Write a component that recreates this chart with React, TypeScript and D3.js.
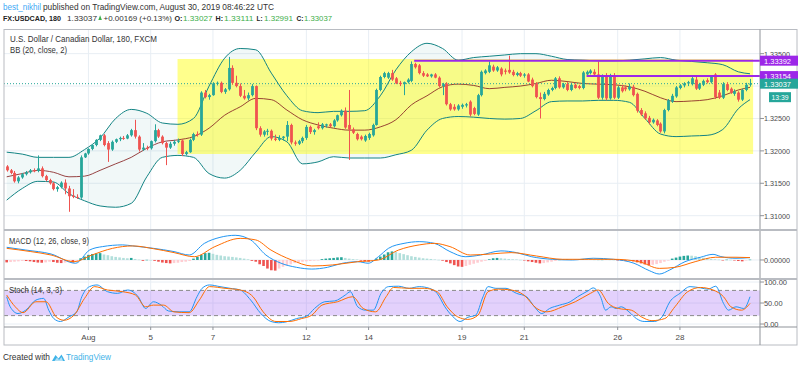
import React from "react";
import * as d3 from "d3";

// 3h candles, Jul 29 09:00 -> Aug 30 06:00 UTC. [open, high, low, close] in pips above 1.3000
const ohlc: [number, number, number, number][] = [
  [176, 178, 168, 170], [170, 172, 164, 166], [166, 169, 151, 153], [153, 161, 150, 159], [159, 166, 157, 164], [164, 169, 162, 167], [167, 172, 165, 170], [170, 173, 167, 169],
  [169, 193, 167, 173], [173, 176, 159, 161], [161, 163, 153, 155], [155, 157, 148, 150], [150, 152, 139, 141], [141, 146, 137, 144], [144, 153, 142, 151], [151, 156, 133, 142],
  [142, 146, 106, 130], [131, 141, 127, 129], [129, 133, 126, 128], [128, 193, 126, 190], [190, 197, 189, 196], [196, 204, 194, 203], [203, 210, 201, 209], [209, 218, 207, 217],
  [217, 225, 215, 224], [224, 226, 207, 209], [212, 215, 183, 202], [202, 216, 200, 214], [214, 219, 212, 218], [218, 222, 215, 220], [220, 223, 217, 219], [219, 226, 218, 224],
  [224, 234, 222, 232], [232, 248, 219, 222], [222, 224, 199, 202], [202, 212, 200, 205], [205, 208, 201, 204], [204, 216, 202, 215], [215, 241, 213, 232], [232, 234, 220, 222],
  [222, 224, 210, 212], [212, 214, 178, 205], [205, 214, 203, 211], [211, 217, 208, 214], [214, 219, 212, 216], [216, 218, 192, 195], [195, 200, 193, 198], [198, 219, 197, 217],
  [217, 228, 215, 226], [226, 230, 222, 225], [225, 292, 223, 290], [290, 294, 281, 283], [283, 288, 279, 286], [286, 306, 285, 304], [304, 307, 301, 305], [305, 307, 289, 291],
  [291, 297, 288, 295], [295, 345, 293, 328], [328, 332, 302, 305], [305, 316, 298, 300], [300, 304, 283, 285], [285, 294, 279, 281], [281, 290, 278, 286], [286, 303, 284, 300],
  [300, 301, 232, 235], [235, 238, 222, 225], [225, 232, 222, 230], [230, 234, 224, 231], [231, 233, 216, 219], [219, 225, 215, 217], [217, 224, 215, 220], [220, 223, 216, 222],
  [222, 246, 215, 240], [240, 242, 210, 213], [213, 216, 208, 211], [211, 217, 209, 215], [215, 222, 212, 220], [220, 240, 217, 237], [237, 239, 226, 229], [229, 234, 225, 232],
  [238, 244, 233, 235], [235, 243, 233, 241], [239, 242, 236, 241], [241, 243, 236, 238], [238, 249, 236, 247], [247, 256, 245, 255], [255, 264, 253, 262], [262, 267, 234, 236],
  [240, 294, 186, 233], [233, 236, 226, 228], [226, 228, 216, 218], [222, 224, 216, 218], [216, 225, 214, 223], [220, 228, 217, 226], [224, 242, 222, 240], [240, 296, 239, 294],
  [294, 316, 292, 314], [314, 322, 312, 320], [313, 322, 311, 320], [320, 325, 308, 310], [312, 314, 303, 304], [305, 308, 300, 303], [303, 307, 286, 306], [306, 312, 304, 310],
  [308, 338, 306, 334], [334, 336, 327, 329], [332, 334, 318, 320], [320, 323, 314, 316], [318, 320, 314, 315], [315, 319, 313, 318], [318, 320, 312, 313], [313, 315, 298, 300],
  [300, 305, 286, 303], [304, 306, 270, 272], [272, 274, 262, 264], [268, 272, 262, 264], [264, 272, 262, 270], [268, 273, 265, 271], [270, 274, 267, 272], [276, 278, 253, 256],
  [266, 268, 255, 257], [256, 288, 254, 286], [286, 324, 284, 322], [320, 326, 318, 324], [322, 338, 320, 332], [330, 333, 322, 324], [324, 331, 322, 329], [327, 329, 315, 318],
  [324, 327, 318, 322], [325, 347, 319, 321], [322, 325, 315, 317], [317, 322, 315, 320], [320, 322, 314, 316], [316, 320, 313, 318], [318, 320, 306, 307], [310, 313, 298, 300],
  [304, 306, 281, 283], [283, 290, 250, 280], [280, 291, 278, 288], [287, 296, 285, 294], [294, 299, 292, 297], [297, 314, 295, 312], [312, 315, 296, 298], [298, 305, 296, 303],
  [303, 306, 292, 294], [294, 305, 292, 302], [302, 304, 296, 297], [300, 302, 295, 297], [297, 323, 295, 321], [318, 324, 316, 322], [320, 326, 318, 324], [322, 326, 317, 318],
  [318, 338, 280, 282], [282, 318, 279, 316], [316, 320, 278, 281], [281, 319, 279, 317], [317, 320, 280, 282], [282, 300, 280, 298], [298, 302, 290, 292], [298, 301, 292, 295],
  [295, 304, 293, 299], [299, 302, 284, 286], [288, 290, 259, 262], [263, 266, 254, 256], [258, 261, 248, 250], [251, 254, 241, 244], [244, 250, 242, 248], [247, 249, 238, 240],
  [242, 244, 228, 230], [230, 265, 227, 263], [263, 280, 261, 278], [276, 288, 274, 285], [284, 300, 282, 298], [297, 303, 295, 301], [301, 306, 298, 304], [304, 308, 300, 306],
  [303, 315, 301, 312], [310, 314, 294, 296], [296, 305, 294, 303], [302, 310, 300, 308], [309, 312, 304, 306], [306, 316, 304, 314], [318, 320, 280, 283], [290, 294, 280, 282],
  [282, 306, 280, 303], [303, 306, 292, 294], [296, 298, 288, 290], [288, 295, 285, 292], [290, 292, 276, 279], [279, 296, 277, 294], [294, 305, 292, 302], [302.7, 311.1, 299.1, 303.7],
];

// Bollinger bands (20, close, 2), read every 4 bars, pips above 1.3000
const bbIndex = [0, 4, 8, 12, 16, 20, 24, 28, 32, 36, 40, 44, 48, 52, 56, 60, 64, 68, 72, 76, 80, 84, 88, 92, 96, 100, 104, 108, 112, 116, 120, 124, 128, 132, 136, 140, 144, 148, 152, 156, 160, 164, 168, 172, 176, 180, 184, 188, 191];
const bbUpper = [198, 195, 190, 190, 190, 202, 220, 250, 264, 258, 243, 241, 250, 300, 343, 358, 356, 320, 285, 262, 259, 261, 261, 262, 285, 325, 353, 366, 358, 340, 344, 346, 348, 350, 350, 346, 341, 340, 339, 339, 340, 342, 344, 340, 338, 336, 333, 322, 319];
const bbBasis = [160, 165, 170, 167, 160, 161, 170, 180, 190, 204, 214, 217, 222, 235, 255, 268, 281, 279, 263, 248, 240, 235, 232, 232, 237, 248, 271, 285, 299, 303, 301, 296, 298, 300, 304, 309, 307, 304, 303, 302, 299, 292, 282, 276, 277, 279, 285, 294, 298];
const bbLower = [124, 142, 153, 152, 134, 123, 115, 113, 119, 160, 190, 193, 190, 165, 158, 170, 198, 222, 214, 180, 183, 191, 189, 189, 189, 194, 201, 232, 250, 253, 252, 250, 249, 250, 262, 276, 277, 277, 278, 278, 275, 250, 226, 222, 223, 224, 233, 265, 279];

// MACD (12, 26, close, 9) in pips
const macdIndex = [0, 4.9, 11.4, 17.7, 21.3, 24.6, 29.8, 32.4, 37.7, 43, 46.9, 50.8, 54.8, 58.7, 62.7, 66.6, 70.5, 74.5, 78.4, 82.4, 86.3, 90.2, 92.9, 95.5, 98.1, 102.1, 106, 109.9, 113.9, 117.8, 121.8, 127, 131, 134.9, 140.2, 145.4, 150.7, 155.9, 161.2, 165.1, 167.7, 170.4, 174.3, 178.3, 181.5, 183.5, 187.4, 191];
const macdValue = [7.4, 5.8, 3.5, -1.9, 5.8, 7.8, 8.8, 8.2, 6.8, 4.9, 2.9, 9.7, 13.2, 14.4, 11.7, 2.9, -1.9, -4.3, -5.3, -4.3, -1.9, -1, -1.9, 1.9, 6.8, 9.7, 10.7, 9.7, 4.9, 1.9, 2.9, 5.3, 4.3, 1.9, 0.4, 0, 1, 0.4, -1.9, -6.2, -8.2, -5.8, -1, 1.6, 3.3, 2, 1, 1.4];
const signalIndex = [0, 6.2, 11.4, 17.3, 21.9, 27.2, 32.4, 37.7, 43, 48.2, 53.5, 60, 64, 67.9, 73.2, 78.4, 83.7, 90.2, 95.5, 100.7, 106, 109.9, 113.9, 119.1, 124.4, 129.6, 136.2, 142.8, 149.4, 155.9, 162.5, 167.7, 171.7, 176.9, 182.2, 187.4, 191];
const signalValue = [6.8, 4.9, 2.9, -1, 2.9, 6.8, 8.2, 6.6, 4.3, 1.9, 7.8, 12.6, 11.7, 5.8, 0, -3.5, -2.9, -1, 0, 5.8, 8.8, 9.7, 7.8, 2.9, 3.5, 4.3, 2.3, 0.4, 0.4, 0.4, -1, -4.9, -4.3, -1, 1.6, 1.6, 1.4];
const histogram = [
  -1.4, -1.2, -1.0, -0.8, -0.6, -0.6, -0.8, -1.2,
  -1.5, -1.6, -1.4, -1.0, -1.2, -1.6, -1.8, -1.5,
  -1.2, -1.5, -0.8, 1.0, 2.0, 3.0, 3.5, 3.8,
  4.0, 3.2, 2.8, 2.2, 1.8, 1.5, 1.2, 1.0,
  1.2, 0.6, 0.2, -0.5, 0.1, 0.0, -0.5, -1.0,
  -1.5, -1.8, -2.0, -1.8, -1.6, -1.2, -1.0, -0.6,
  0.8, 1.8, 3.0, 4.0, 4.2, 3.6, 3.0, 2.6,
  2.2, 2.0, 1.8, 1.5, 1.2, 0.8, 0.4, -0.5,
  -1.0, -2.5, -3.5, -5.0, -6.0, -6.2, -5.0, -4.0,
  -3.2, -2.5, -1.8, -1.4, -1.0, -0.8, -0.6, -0.4,
  -0.2, 0.5, 0.8, 1.0, 1.2, 1.5, 1.6, 1.2,
  0.8, 0.5, 0.3, -0.4, -0.8, -1.0, -0.6, 0.8,
  2.0, 3.2, 4.5, 5.0, 4.6, 4.0, 3.4, 2.8,
  2.2, 1.8, 1.4, 1.0, 0.8, 0.6, 0.3, 0.1,
  -0.4, -1.2, -2.0, -3.0, -3.8, -4.0, -3.5, -2.8,
  -2.2, -1.6, -1.0, -0.5, 0.4, 1.0, 1.2, 1.0,
  0.8, 0.6, 0.4, 0.3, 0.1, -0.2, -0.8, -1.2,
  -1.6, -2.0, -1.8, -1.4, -1.0, -0.6, 0.2, 0.4,
  0.5, 0.4, 0.3, 0.4, 0.6, 0.5, 0.4, 0.2,
  0.1, 0.2, 0.3, 0.2, 0.1, -0.2, -0.3, -0.5,
  -0.4, -0.8, -1.4, -2.0, -2.6, -3.0, -2.8, -2.4,
  -1.8, -1.0, -0.4, 0.8, 1.4, 2.0, 2.4, 2.6,
  2.5, 2.2, 1.8, 1.3, 1.0, 0.6, 0.4, 0.2,
  -0.1, 0.2, 0.1, -0.2, -0.6, -0.8, -0.3, 0.2,
];

// Stoch (14, 3, 3)
const kIndex = [0, 0.9, 2.9, 4.9, 7.5, 9.5, 10.8, 12.1, 13.8, 16, 18, 19.3, 21.3, 23.2, 25.9, 28.5, 31.1, 33.8, 35.7, 37.7, 39.7, 41.6, 44.3, 46.9, 48.9, 50.2, 52.1, 54.8, 57.4, 60, 62.7, 65.3, 67.9, 69.9, 71.8, 74.5, 77.1, 79.1, 81.7, 84.3, 87, 88.3, 90.2, 92.2, 94.2, 96.2, 98.1, 100.7, 103.4, 106, 108.6, 110.6, 112.6, 114.5, 116.5, 118.5, 120.5, 122.4, 123.7, 125.7, 128.3, 131, 133.6, 135.6, 137.5, 139.5, 142.1, 144.8, 146.7, 149.4, 150.7, 152.6, 153.9, 155.3, 156.6, 157.9, 159.9, 161.8, 163.8, 166.4, 168.4, 170.4, 173, 175.6, 178.3, 180.2, 182.2, 184.2, 185.5, 187.4, 189.4, 191];
const kValue = [65, 41, 25, 33, 57, 61, 33, 13, 6, 17, 29, 65, 89, 93, 77, 73, 81, 65, 37, 53, 45, 31, 29, 29, 65, 85, 93, 89, 85, 81, 57, 25, 6, 3, 5, 13, 19, 37, 53, 55, 69, 77, 41, 33, 33, 73, 89, 90, 85, 89, 85, 73, 41, 19, 6, 16, 21, 65, 89, 85, 85, 73, 65, 41, 25, 37, 45, 53, 65, 79, 86, 65, 33, 41, 37, 41, 29, 13, 6, 6, 17, 53, 73, 89, 86, 83, 90, 49, 33, 41, 37, 65];
const dIndex = [0, 2.2, 4.2, 7.5, 10.1, 12.7, 14.7, 17.3, 20, 22.6, 25.9, 29.8, 33.1, 35.7, 37.7, 40.3, 43, 46.9, 49.5, 52.1, 56.1, 60, 63.3, 65.9, 69.2, 72.5, 75.8, 78.4, 81, 85, 88.9, 91.6, 94.8, 97.5, 99.4, 103.4, 107.3, 110.6, 113.2, 115.9, 118.5, 121.1, 123.7, 126.4, 129.6, 132.9, 136.2, 138.8, 142.8, 146.1, 150, 152, 154.6, 157.2, 160.5, 163.1, 165.8, 169.1, 171.7, 175, 178.3, 181.5, 184.2, 186.1, 188.8, 191];
const dValue = [69, 41, 27, 53, 53, 17, 9, 21, 61, 89, 81, 77, 69, 41, 45, 45, 29, 27, 57, 89, 85, 81, 65, 29, 6, 6, 13, 21, 45, 53, 65, 37, 29, 65, 87, 85, 85, 77, 41, 17, 11, 21, 77, 83, 81, 69, 37, 29, 41, 53, 73, 81, 49, 37, 33, 17, 8, 13, 41, 77, 87, 81, 65, 41, 33, 49];

// axes
const dayTickIndex = [21, 37, 53, 77, 93, 117, 133, 157, 173];
const dayTickLabel = ["Aug", "5", "7", "12", "14", "19", "21", "26", "28"];
const priceTicks = [1.31, 1.315, 1.32, 1.325, 1.33, 1.335];
const stochTicks = [100, 50, 0];

// drawings
const zoneIndex = [43.9, 191.8];
const zonePrice = [1.31952, 1.33418];
const levelPrice = [1.33392, 1.33154];
const levelStart = [104.7, 149];
const lastPrice = 1.33037;

const FONT = "'Liberation Sans', Arial, sans-serif";
const UP = "#26a69a";
const DOWN = "#ef5350";
const PURPLE = "#9c27e8";

export default function App() {
  const left = 4, axisX = 760, right = 797;
  const mainTop = 30, mainBottom = 230, macdBottom = 279, stochBottom = 327, bottom = 345;

  const x = d3.scaleLinear().domain([0, 191]).range([6.7, 750]);
  const y = d3.scaleLinear().domain([1.30779, 1.33873]).range([mainBottom, 29.5]);
  const py = (p: number) => y(1.3 + p / 10000);
  const ym = d3.scaleLinear().domain([-11.1, 17.5]).range([macdBottom, mainBottom]);
  const ys = d3.scaleLinear().domain([-7.1, 106]).range([stochBottom, macdBottom + 0.5]);

  const band = bbIndex.map((i, k) => ({ i, u: bbUpper[k], m: bbBasis[k], l: bbLower[k] }));
  const bandArea =
    d3.area<any>().x((d) => x(d.i)).y0((d) => py(d.l)).y1((d) => py(d.u)).curve(d3.curveMonotoneX)(band) ?? "";
  const curve = (xs: number[], vs: number[], sy: (v: number) => number) =>
    d3.line<number>().x((_, k) => x(xs[k])).y((v) => sy(v)).curve(d3.curveMonotoneX)(vs) ?? "";

  const histColor = (h: number, k: number) => {
    const prev = k > 0 ? histogram[k - 1] : h;
    if (h >= 0) return h >= prev ? "#26a69a" : "#b2dfdb";
    return h <= prev ? "#ef5350" : "#ffcdd2";
  };

  const grid = "#e8eef4";
  const axisText = "#4a4a4a";
  // the last-price tag covers the axis label it sits on
  const visibleTicks = priceTicks.filter((p) => Math.abs(y(p) - y(lastPrice)) > 8);

  return (
    <svg width={800} height={368} style={{ display: "block", fontFamily: FONT }}>
      <style>{`body{margin:0}`}</style>
      <defs>
        <clipPath id="cMain"><rect x={left} y={mainTop} width={axisX - left} height={mainBottom - mainTop} /></clipPath>
        <clipPath id="cMacd"><rect x={left} y={mainBottom} width={axisX - left} height={macdBottom - mainBottom} /></clipPath>
        <clipPath id="cStoch"><rect x={left} y={macdBottom} width={axisX - left} height={stochBottom - macdBottom} /></clipPath>
      </defs>
      <rect width={800} height={368} fill="#fff" />

      {/* header */}
      <text x={3} y={10} fontSize={9} fill="#3fa9f5" textLength={38} lengthAdjust="spacingAndGlyphs">best_nikhil</text>
      <text x={43} y={10} fontSize={9} fill="#333" textLength={231} lengthAdjust="spacingAndGlyphs">published on TradingView.com, August 30, 2019 08:46:22 UTC</text>
      <text x={3} y={21} fontSize={8} fill="#222" fontWeight="bold" textLength={58} lengthAdjust="spacingAndGlyphs">FX:USDCAD, 180</text>
      <text x={67} y={21} fontSize={8} fill="#333" textLength={30} lengthAdjust="spacingAndGlyphs">1.33037</text>
      <path d="M98.3,20 L100.1,15.2 L101.9,20 Z" fill="#3cae4a" />
      <text x={103.5} y={21} fontSize={8} fill="#333" textLength={68.5} lengthAdjust="spacingAndGlyphs">+0.00169 (+0.13%)</text>
      {[
        ["O:", 174.5, 8, "1.33027", 183, 29.5],
        ["H:", 215.5, 7.5, "1.33111", 224, 29.5],
        ["L:", 256.5, 6, "1.32991", 264, 29],
        ["C:", 296.5, 7, "1.33037", 304, 28],
      ].map(([k, kx, kw, v, vx, vw]) => (
        <g key={k as string}>
          <text x={kx as number} y={21} fontSize={8} fill="#222" fontWeight="bold" textLength={kw as number} lengthAdjust="spacingAndGlyphs">{k}</text>
          <text x={vx as number} y={21} fontSize={8} fill="#3cae4a" textLength={vw as number} lengthAdjust="spacingAndGlyphs">{v}</text>
        </g>
      ))}

      {/* grid */}
      {dayTickIndex.map((i) => (
        <line key={"vg" + i} x1={x(i)} x2={x(i)} y1={mainTop} y2={stochBottom} stroke={grid} />
      ))}
      {priceTicks.map((p) => (
        <line key={"hg" + p} x1={left} x2={axisX} y1={y(p)} y2={y(p)} stroke={grid} />
      ))}
      <line x1={left} x2={axisX} y1={ym(0)} y2={ym(0)} stroke={grid} />
      {stochTicks.map((v) => (
        <line key={"sg" + v} x1={left} x2={axisX} y1={ys(v)} y2={ys(v)} stroke={grid} />
      ))}

      {/* main pane */}
      <g clipPath="url(#cMain)">
        <path d={bandArea} fill="#198787" fillOpacity={0.06} />
        <rect
          x={x(zoneIndex[0])}
          y={y(zonePrice[1])}
          width={x(zoneIndex[1]) - x(zoneIndex[0])}
          height={y(zonePrice[0]) - y(zonePrice[1])}
          fill="#ffff00"
          fillOpacity={0.45}
        />
        <path d={curve(bbIndex, bbUpper, py)} fill="none" stroke="#138484" strokeWidth={1} />
        <path d={curve(bbIndex, bbLower, py)} fill="none" stroke="#138484" strokeWidth={1} />
        <path d={curve(bbIndex, bbBasis, py)} fill="none" stroke="#872323" strokeOpacity={0.85} strokeWidth={1} />
        <line x1={left} x2={axisX} y1={y(lastPrice)} y2={y(lastPrice)} stroke={UP} strokeDasharray="1,2" />
        {ohlc.map(([o, h, l, c], i) => {
          const col = c >= o ? UP : DOWN;
          const cx = Math.round(x(i)) + 0.5;
          const top = py(Math.max(o, c));
          const ht = Math.max(1, Math.abs(py(o) - py(c)));
          return (
            <g key={i}>
              <line x1={cx} x2={cx} y1={py(h)} y2={py(l)} stroke={col} strokeWidth={1} />
              <rect x={cx - 1.4} y={top} width={2.8} height={ht} fill={col} />
            </g>
          );
        })}
        {levelPrice.map((p, k) => (
          <line key={"lv" + k} x1={x(levelStart[k])} x2={axisX} y1={y(p)} y2={y(p)} stroke={PURPLE} strokeWidth={2} />
        ))}
      </g>

      {/* MACD pane */}
      <g clipPath="url(#cMacd)">
        {histogram.map((h, k) => (
          <rect
            key={"h" + k}
            x={x(k) - 1.3}
            y={Math.min(ym(0), ym(h))}
            width={2.6}
            height={Math.max(0.5, Math.abs(ym(h) - ym(0)))}
            fill={histColor(h, k)}
          />
        ))}
        <path d={curve(macdIndex, macdValue, ym)} fill="none" stroke="#2196f3" strokeWidth={1} />
        <path d={curve(signalIndex, signalValue, ym)} fill="none" stroke="#ff6d00" strokeWidth={1} />
      </g>

      {/* Stoch pane */}
      <g clipPath="url(#cStoch)">
        <rect x={left} y={ys(80)} width={axisX - left} height={ys(20) - ys(80)} fill="#9b59f5" fillOpacity={0.28} />
        <line x1={left} x2={axisX} y1={ys(80)} y2={ys(80)} stroke="#8a8a8a" strokeDasharray="4,3" />
        <line x1={left} x2={axisX} y1={ys(20)} y2={ys(20)} stroke="#8a8a8a" strokeDasharray="4,3" />
        <path d={curve(kIndex, kValue, ys)} fill="none" stroke="#2196f3" strokeWidth={1} />
        <path d={curve(dIndex, dValue, ys)} fill="none" stroke="#ff6d00" strokeWidth={1} />
      </g>

      {/* pane labels */}
      <text x={10} y={41.5} fontSize={9} fill="#333" textLength={147} lengthAdjust="spacingAndGlyphs">U.S. Dollar / Canadian Dollar, 180, FXCM</text>
      <text x={10} y={52.5} fontSize={9} fill="#333" textLength={57} lengthAdjust="spacingAndGlyphs">BB (20, close, 2)</text>
      <text x={9} y={243.5} fontSize={8.5} fill="#333" textLength={80} lengthAdjust="spacingAndGlyphs">MACD (12, 26, close, 9)</text>
      <text x={9} y={292.5} fontSize={8.5} fill="#333" textLength={53} lengthAdjust="spacingAndGlyphs">Stoch (14, 3, 3)</text>

      {/* frame and separators */}
      <rect x={left} y={29.5} width={right - left} height={bottom - 29.5} fill="none" stroke="#b9bcc2" />
      <line x1={axisX} x2={axisX} y1={29.5} y2={bottom} stroke="#8f9399" />
      {[mainBottom, macdBottom].map((v) => (
        <line key={"sep" + v} x1={left} x2={right} y1={v} y2={v} stroke="#b9bcc2" strokeWidth={2} />
      ))}
      <line x1={left} x2={right} y1={stochBottom} y2={stochBottom} stroke="#8f9399" />

      {/* price axis */}
      {priceTicks.map((p) => (
        <line key={"ptk" + p} x1={axisX} x2={axisX + 4} y1={y(p)} y2={y(p)} stroke="#8f9399" />
      ))}
      {visibleTicks.map((p) => (
        <text key={"pt" + p} x={764} y={y(p) + 3} fontSize={8} fill={axisText} textLength={26} lengthAdjust="spacingAndGlyphs">
          {d3.format(".5f")(p)}
        </text>
      ))}
      <line x1={axisX} x2={axisX + 4} y1={ym(0)} y2={ym(0)} stroke="#8f9399" />
      <text x={764} y={ym(0) + 3} fontSize={8} fill={axisText} textLength={26} lengthAdjust="spacingAndGlyphs">0.00000</text>
      {stochTicks.map((v) => (
        <g key={"st" + v}>
          <line x1={axisX} x2={axisX + 4} y1={ys(v)} y2={ys(v)} stroke="#8f9399" />
          <text x={764} y={ys(v) + 3} fontSize={8} fill={axisText} textLength={v === 100 ? 23 : v === 50 ? 18.5 : 14.5} lengthAdjust="spacingAndGlyphs">
            {d3.format(".2f")(v)}
          </text>
        </g>
      ))}
      {levelPrice.map((p, k) => (
        <g key={"lb" + k}>
          <rect x={axisX} y={y(p) - 5} width={38} height={10} fill={PURPLE} />
          <text x={764} y={y(p) + 3} fontSize={8} fill="#fff" textLength={27} lengthAdjust="spacingAndGlyphs">{d3.format(".5f")(p)}</text>
        </g>
      ))}
      <rect x={axisX} y={y(lastPrice) - 5} width={38} height={10} fill={UP} />
      <text x={764} y={y(lastPrice) + 3} fontSize={8} fill="#fff" textLength={27} lengthAdjust="spacingAndGlyphs">{d3.format(".5f")(lastPrice)}</text>
      <rect x={769} y={y(lastPrice) + 8.5} width={22} height={10} fill={UP} />
      <text x={771.5} y={y(lastPrice) + 16.5} fontSize={8} fill="#fff" textLength={17} lengthAdjust="spacingAndGlyphs">13:39</text>

      {/* time axis */}
      {dayTickIndex.map((i, k) => (
        <g key={"tt" + i}>
          <line x1={x(i)} x2={x(i)} y1={stochBottom} y2={stochBottom + 3} stroke="#8f9399" />
          <text x={x(i)} y={340} fontSize={8} fill={axisText} textAnchor="middle">{dayTickLabel[k]}</text>
        </g>
      ))}

      {/* footer */}
      <text x={3} y={360} fontSize={9} fill="#333" textLength={47} lengthAdjust="spacingAndGlyphs">Created with</text>
      <path d="M52,361 L55.5,355 L58.5,358.5 L61.5,354.5 L65,361 Z" fill="#3fb3e8" />
      <path d="M54.5,361 L57,357.5 L59,360 L61.5,357 L63,361 Z" fill="#fff" fillOpacity={0.6} />
      <text x={66} y={360} fontSize={9} fill="#3fb3e8" textLength={45} lengthAdjust="spacingAndGlyphs">TradingView</text>
    </svg>
  );
}
